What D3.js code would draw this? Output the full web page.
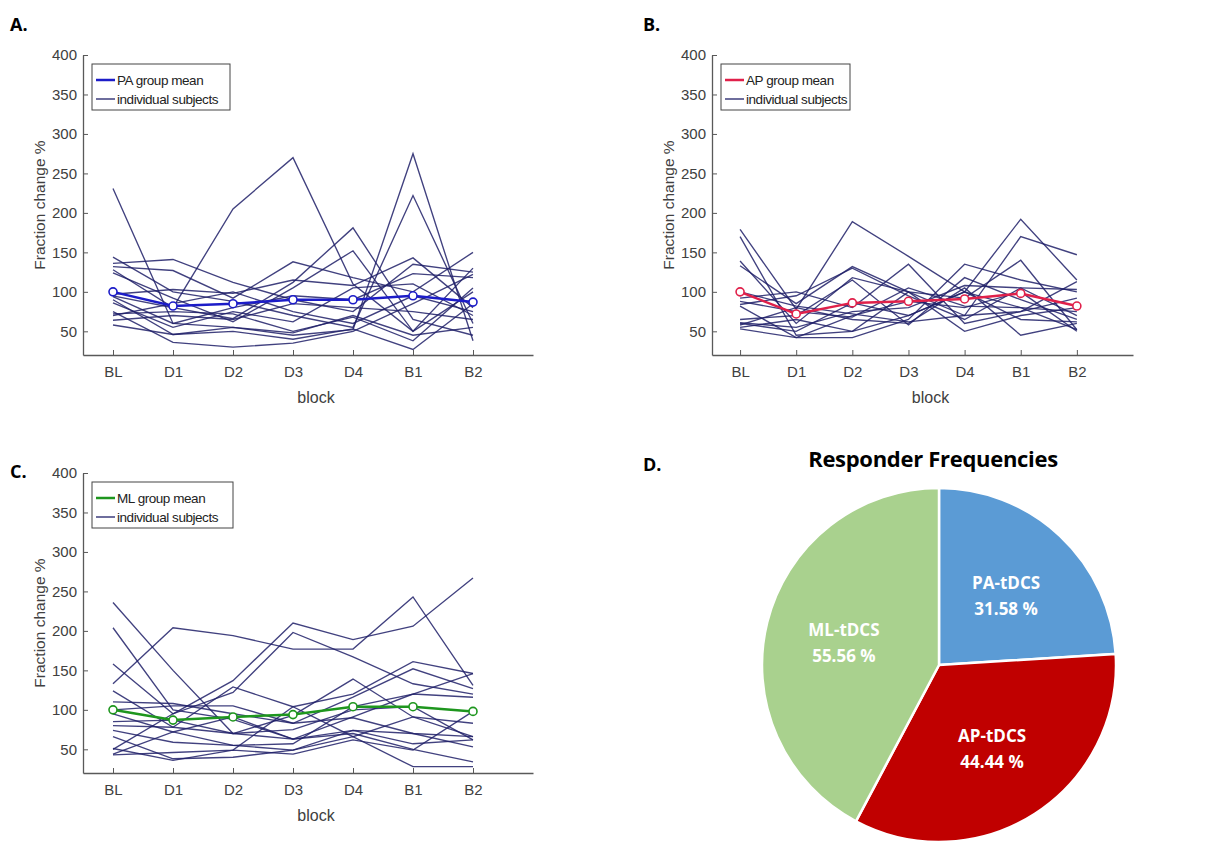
<!DOCTYPE html>
<html>
<head>
<meta charset="utf-8">
<script src="https://cdn.jsdelivr.net/npm/d3@7"></script>
<style>
	body { margin: 0; background: #fff; }
	svg { display: block; }
</style>
</head>
<body>
<svg id="fig" width="1219" height="841"></svg>
<script>
const blocks = ["BL", "D1", "D2", "D3", "D4", "B1", "B2"];
const yTicks = [50, 100, 150, 200, 250, 300, 350, 400];

// panel A: PA group
const paMean = [100, 82, 85, 90, 90, 95, 87];
const paSubjects = [
	[231, 60, 55, 45, 52, 275, 38],
	[95, 80, 205, 270, 110, 50, 100],
	[144, 100, 88, 70, 55, 222, 60],
	[136, 141, 112, 90, 75, 135, 125],
	[132, 127, 92, 138, 118, 100, 150],
	[128, 80, 66, 112, 181, 65, 45],
	[124, 92, 62, 105, 152, 50, 130],
	[97, 103, 98, 115, 108, 143, 80],
	[94, 60, 80, 95, 90, 123, 118],
	[90, 46, 50, 40, 53, 27, 85],
	[86, 55, 75, 62, 105, 110, 70],
	[75, 36, 30, 35, 50, 85, 122],
	[72, 75, 72, 50, 68, 38, 105],
	[70, 85, 100, 75, 60, 95, 75],
	[64, 70, 65, 85, 80, 75, 65],
	[58, 46, 55, 48, 70, 45, 55],
];

// panel B: AP group
const apMean = [100, 72, 86, 88, 91, 98, 82];
const apSubjects = [
	[179, 78, 189, 145, 100, 80, 52],
	[170, 45, 50, 70, 100, 192, 115],
	[139, 60, 118, 100, 70, 170, 147],
	[133, 85, 132, 100, 92, 140, 52],
	[92, 100, 80, 135, 60, 75, 113],
	[84, 95, 130, 95, 65, 105, 70],
	[82, 42, 42, 65, 135, 115, 100],
	[65, 70, 115, 58, 118, 90, 65],
	[61, 55, 75, 80, 108, 105, 103],
	[58, 80, 65, 60, 105, 45, 60],
	[55, 65, 50, 100, 50, 70, 80],
	[53, 42, 70, 88, 80, 100, 50],
	[60, 50, 86, 70, 100, 65, 62],
	[88, 75, 68, 105, 82, 80, 75],
	[100, 82, 72, 62, 70, 75, 92],
];

// panel C: ML group
const mlMean = [100, 87, 91, 94, 104, 104, 98];
const mlSubjects = [
	[236, 150, 70, 63, 70, 50, 34],
	[204, 100, 88, 63, 74, 57, 62],
	[133, 204, 194, 177, 177, 243, 131],
	[50, 95, 137, 210, 189, 206, 267],
	[158, 95, 122, 198, 167, 133, 120],
	[124, 78, 129, 104, 120, 161, 146],
	[110, 108, 95, 83, 116, 152, 127],
	[95, 72, 91, 63, 91, 120, 116],
	[85, 87, 70, 93, 139, 91, 83],
	[74, 59, 55, 57, 104, 120, 146],
	[66, 38, 40, 49, 66, 28, 28],
	[51, 36, 49, 44, 62, 49, 98],
	[44, 72, 55, 49, 74, 70, 53],
	[43, 46, 49, 104, 66, 91, 66],
	[100, 105, 105, 83, 90, 70, 66],
	[80, 78, 70, 75, 100, 104, 62],
];

// panel D: responder pie
const pieLabels = ["PA-tDCS", "AP-tDCS", "ML-tDCS"];
const pieValues = [31.58, 44.44, 55.56];
const pieColors = ["#5b9bd5", "#c00000", "#a9d18e"];

const svg = d3.select("#fig");
const subjColor = "#202068";
const axisColor = "#595959";
const font = "'Liberation Sans', Arial, sans-serif";

function drawPanel(opt) {
	const x = d3.scaleLinear().domain([0.5, 8]).range([opt.left, opt.right]);
	const y = d3.scaleLinear().domain([20, 400]).range([opt.top + 300, opt.top]);
	const g = svg.append("g");

	const line = d3
		.line()
		.x((d, i) => x(i + 1))
		.y((d) => y(d));

	g.selectAll("path.subj")
		.data(opt.subjects)
		.join("path")
		.attr("class", "subj")
		.attr("d", line)
		.attr("fill", "none")
		.attr("stroke", subjColor)
		.attr("stroke-opacity", 0.85)
		.attr("stroke-width", 1.35);

	g.append("path")
		.attr("d", line(opt.mean))
		.attr("fill", "none")
		.attr("stroke", opt.color)
		.attr("stroke-width", 2.5);

	g.selectAll("circle")
		.data(opt.mean)
		.join("circle")
		.attr("cx", (d, i) => x(i + 1))
		.attr("cy", (d) => y(d))
		.attr("r", 4)
		.attr("fill", "#fff")
		.attr("stroke", opt.color)
		.attr("stroke-width", 1.6);

	const xAxis = g
		.append("g")
		.attr("transform", `translate(0,${y(20)})`)
		.call(
			d3
				.axisBottom(x)
				.tickValues(d3.range(1, 8))
				.tickFormat((d) => blocks[d - 1])
				.tickSizeInner(-5)
				.tickSizeOuter(0)
				.tickPadding(11),
		);
	const yAxis = g
		.append("g")
		.attr("transform", `translate(${x(0.5)},0)`)
		.call(
			d3
				.axisLeft(y)
				.tickValues(yTicks)
				.tickSizeInner(-5)
				.tickSizeOuter(0)
				.tickPadding(6),
		);
	[xAxis, yAxis].forEach((a) => {
		a.select(".domain").attr("stroke", axisColor).attr("stroke-width", 1.3);
		a.selectAll(".tick line").attr("stroke", axisColor);
		a.selectAll("text")
			.attr("fill", "#404040")
			.style("font-family", font)
			.style("font-size", "15px");
	});

	g.append("text")
		.attr("x", (opt.left + opt.right) / 2 + 8)
		.attr("y", y(20) + 48)
		.attr("text-anchor", "middle")
		.attr("fill", "#404040")
		.style("font-family", font)
		.style("font-size", "16px")
		.text("block");

	g.append("text")
		.attr("transform", `translate(${opt.left - 38},${opt.top + 150}) rotate(-90)`)
		.attr("text-anchor", "middle")
		.attr("fill", "#404040")
		.style("font-family", font)
		.style("font-size", "15.5px")
		.text("Fraction change %");

	// legend
	const lg = g.append("g").attr("transform", `translate(${opt.left + 9},${opt.top + 9})`);
	lg.append("rect")
		.attr("width", opt.legendW)
		.attr("height", 46)
		.attr("fill", "#fff")
		.attr("stroke", "#444")
		.attr("stroke-width", 1);
	const items = [
		{ label: opt.meanLabel, color: opt.color, w: 2.5 },
		{ label: "individual subjects", color: subjColor, w: 1.3 },
	];
	items.forEach((it, i) => {
		const ly = 16 + i * 19;
		lg.append("line")
			.attr("x1", 4)
			.attr("x2", 23)
			.attr("y1", ly)
			.attr("y2", ly)
			.attr("stroke", it.color)
			.attr("stroke-width", it.w);
		lg.append("text")
			.attr("x", 25)
			.attr("y", ly + 5)
			.attr("fill", "#222")
			.style("font-family", font)
			.style("font-size", "13.5px")
			.style("letter-spacing", "-0.45px")
			.text(it.label);
	});
}

drawPanel({ left: 83, right: 533, top: 55, subjects: paSubjects, mean: paMean, color: "#1c1cc8", meanLabel: "PA group mean", legendW: 138 });
drawPanel({ left: 712, right: 1133, top: 55, subjects: apSubjects, mean: apMean, color: "#e0204a", meanLabel: "AP group mean", legendW: 129 });
drawPanel({ left: 83, right: 533, top: 473, subjects: mlSubjects, mean: mlMean, color: "#1e961e", meanLabel: "ML group mean", legendW: 141 });

// panel letters
const letters = [
	["A.", 10, 31],
	["B.", 643, 31],
	["C.", 10, 478],
	["D.", 643, 471],
];
svg.selectAll("text.letter")
	.data(letters)
	.join("text")
	.attr("class", "letter")
	.attr("x", (d) => d[1])
	.attr("y", (d) => d[2])
	.style("font-family", "'Open Sans', sans-serif")
	.style("font-weight", "bold")
	.style("font-size", "18px")
	.text((d) => d[0]);

// pie
const cx = 939, cy = 665, radius = 177;
svg.append("text")
	.attr("x", 933)
	.attr("y", 467)
	.attr("text-anchor", "middle")
	.style("font-family", "'Open Sans', sans-serif")
	.style("font-weight", "bold")
	.style("font-size", "22px")
	.style("letter-spacing", "-0.3px")
	.text("Responder Frequencies");

const pieData = pieLabels.map((label, i) => ({ label, value: pieValues[i], color: pieColors[i] }));
const pie = d3.pie().sort(null).value((d) => d.value);
const arc = d3.arc().innerRadius(0).outerRadius(radius);
const labelArc = d3.arc().innerRadius(98).outerRadius(98);
const pg = svg.append("g").attr("transform", `translate(${cx},${cy})`);

pg.selectAll("path")
	.data(pie(pieData))
	.join("path")
	.attr("d", arc)
	.attr("fill", (d) => d.data.color)
	.attr("stroke", "#fff")
	.attr("stroke-width", 2.5);

const lbl = pg
	.selectAll("g.lbl")
	.data(pie(pieData))
	.join("g")
	.attr("class", "lbl")
	.attr("transform", (d) => `translate(${labelArc.centroid(d)})`);
lbl.append("text")
	.attr("y", -5)
	.text((d) => d.data.label);
lbl.append("text")
	.attr("y", 21)
	.text((d) => `${d.data.value.toFixed(2)} %`);
lbl.selectAll("text")
	.attr("text-anchor", "middle")
	.attr("fill", "#fff")
	.style("font-family", "'Open Sans', sans-serif")
	.style("font-weight", "bold")
	.style("font-size", "17px");
</script>
</body>
</html>
